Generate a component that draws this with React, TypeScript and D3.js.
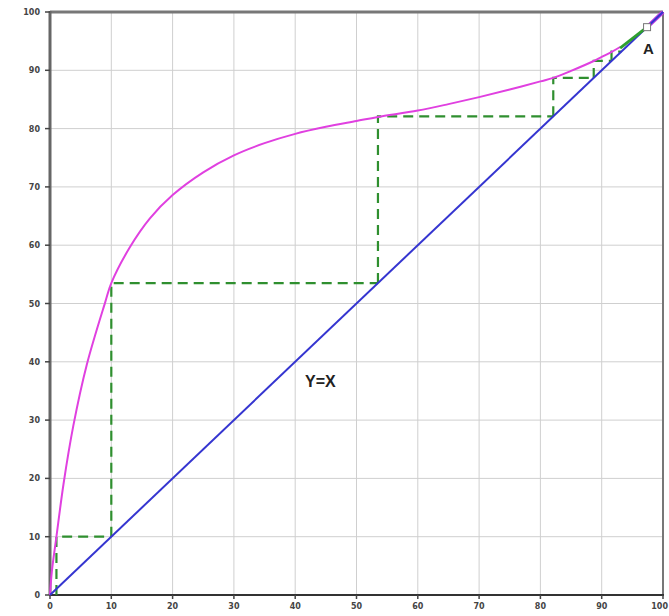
import React from "react";
import * as d3 from "d3";

const curveX = [0, 0.3, 1.05, 2.2, 3.8, 6, 9, 10, 13, 16.3, 20, 25, 30, 35, 40, 45, 50, 53.5, 60, 65, 70, 75, 80, 82.1, 85, 88.7, 90, 91.7, 93];
const curveY = [0, 4, 10, 19, 29, 39.5, 50.2, 53.5, 59.6, 64.6, 68.6, 72.5, 75.4, 77.5, 79.1, 80.3, 81.3, 82, 83.1, 84.2, 85.4, 86.7, 88.1, 88.7, 89.9, 91.6, 92.3, 93.2, 94];
const stepX = [1.05, 10, 53.5, 82.1, 88.7, 91.6];
const stepY = [10, 53.5, 82.1, 88.7, 91.6, 93.2];
const greenLineX = [93, 97.4];
const greenLineY = [93.8, 97.4];
const pointA = [97.4, 97.4];
const ticks = [0, 10, 20, 30, 40, 50, 60, 70, 80, 90, 100];

export default function App() {
  const W = 669, H = 616;
  const x = d3.scaleLinear().domain([0, 100]).range([50, 663]);
  const y = d3.scaleLinear().domain([0, 100]).range([595, 12]);
  const line = d3.line<[number, number]>().x(d => x(d[0])).y(d => y(d[1])).curve(d3.curveCatmullRom.alpha(0.5));
  const curvePts: [number, number][] = curveX.map((v, i) => [v, curveY[i]]);
  const stepPath = stepX.map((sx, i) => {
    const sy = stepY[i];
    return `M${x(sx)},${y(i === 0 ? 0 : sx)}L${x(sx)},${y(sy)}L${x(sy)},${y(sy)}`;
  }).join("");
  return (
    <svg width={W} height={H} style={{ position: "absolute", left: 0, top: 0, background: "#fff" }}>
      {ticks.map(t => (
        <g key={"g" + t}>
          <line x1={x(t)} x2={x(t)} y1={y(0)} y2={y(100)} stroke="#cfcfcf" strokeWidth={1} />
          <line x1={x(0)} x2={x(100)} y1={y(t)} y2={y(t)} stroke="#cfcfcf" strokeWidth={1} />
        </g>
      ))}
      <line x1={x(0)} x2={x(100)} y1={y(100)} y2={y(100)} stroke="#777" strokeWidth={3} />
      <line x1={x(100)} x2={x(100)} y1={y(100)} y2={y(0)} stroke="#777" strokeWidth={2} />
      <line x1={x(0)} x2={x(0)} y1={y(100) - 1} y2={y(0)} stroke="#666" strokeWidth={3} />
      <line x1={x(0)} x2={x(100) + 1} y1={y(0)} y2={y(0)} stroke="#333" strokeWidth={2} />
      {ticks.map(t => (
        <g key={"t" + t}>
          <line x1={x(0) - 5} x2={x(0)} y1={y(t)} y2={y(t)} stroke="#444" strokeWidth={1.5} />
          <text x={40} y={y(t) + 3} textAnchor="end" fontFamily="DejaVu Sans, sans-serif" fontSize={8} fontWeight="bold" fill="#444">{t}</text>
          <line x1={x(t)} x2={x(t)} y1={y(0)} y2={y(0) + 4} stroke="#444" strokeWidth={1.5} />
          <text x={t === 100 ? 668 : x(t)} y={609} textAnchor={t === 100 ? "end" : "middle"} fontFamily="DejaVu Sans, sans-serif" fontSize={8} fontWeight="bold" fill="#444">{t}</text>
        </g>
      ))}
      <path d={stepPath} fill="none" stroke="#2f8f2f" strokeWidth={2.2} strokeDasharray="10,6" />
      <path d={line(curvePts) || ""} fill="none" stroke="#e040e0" strokeWidth={2} />
      <line x1={x(pointA[0])} y1={y(pointA[1])} x2={x(100)} y2={y(100)} stroke="#c040e0" strokeWidth={4} />
      <line x1={x(0)} y1={y(0)} x2={x(100)} y2={y(100)} stroke="#3535d0" strokeWidth={2} />
      <line x1={x(greenLineX[0])} y1={y(greenLineY[0])} x2={x(greenLineX[1])} y2={y(greenLineY[1])} stroke="#2fa02f" strokeWidth={3} />
      <rect x={x(pointA[0]) - 3.5} y={y(pointA[1]) - 3.5} width={7} height={7} fill="#fff" stroke="#777" strokeWidth={1} />
      <text x={305} y={387} fontFamily="Liberation Sans, Arial, sans-serif" fontSize={16} fontWeight="bold" fill="#222">Y=X</text>
      <text x={643} y={54} fontFamily="Liberation Sans, Arial, sans-serif" fontSize={15} fontWeight="bold" fill="#222">A</text>
    </svg>
  );
}
